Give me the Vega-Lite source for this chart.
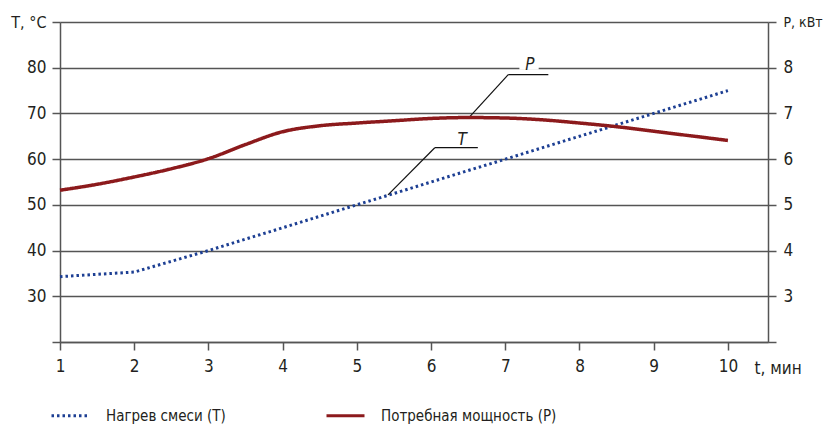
{
  "$schema": "https://vega.github.io/schema/vega-lite/v6.json",
  "width": 708,
  "height": 320,
  "autosize": "none",
  "padding": {"left": 60, "top": 22, "right": 57, "bottom": 85},
  "config": {
    "view": {"stroke": null},
    "font": "DejaVu Sans Condensed, Liberation Sans Narrow, Roboto, sans-serif",
    "axis": {"labelFont": "DejaVu Sans Condensed, Liberation Sans Narrow, Roboto, sans-serif", "labelFontSize": 17, "labelColor": "#231f20", "tickColor": "#555", "domainColor": "#555", "tickWidth": 1.5, "domainWidth": 1.5, "tickSize": 8, "gridColor": "#555", "gridWidth": 1.3, "gridOpacity": 1},
    "legend": {"labelFont": "DejaVu Sans Condensed, Liberation Sans Narrow, Roboto, sans-serif", "labelFontSize": 15, "labelColor": "#231f20", "labelLimit": 400}
  },
  "datasets": {
    "temp": [
      {"t": 1, "v": 34.3, "series": "Нагрев смеси (T)"},
      {"t": 2, "v": 35.3, "series": "Нагрев смеси (T)"},
      {"t": 3, "v": 40, "series": "Нагрев смеси (T)"},
      {"t": 4, "v": 45, "series": "Нагрев смеси (T)"},
      {"t": 5, "v": 50, "series": "Нагрев смеси (T)"},
      {"t": 6, "v": 55, "series": "Нагрев смеси (T)"},
      {"t": 7, "v": 60, "series": "Нагрев смеси (T)"},
      {"t": 8, "v": 65, "series": "Нагрев смеси (T)"},
      {"t": 9, "v": 70, "series": "Нагрев смеси (T)"},
      {"t": 10, "v": 75, "series": "Нагрев смеси (T)"}
    ],
    "power": [
      {"t": 1, "v": 5.32, "series": "Потребная мощность (P)"},
      {"t": 1.5, "v": 5.45, "series": "Потребная мощность (P)"},
      {"t": 2, "v": 5.61, "series": "Потребная мощность (P)"},
      {"t": 2.5, "v": 5.79, "series": "Потребная мощность (P)"},
      {"t": 3, "v": 6.01, "series": "Потребная мощность (P)"},
      {"t": 3.5, "v": 6.32, "series": "Потребная мощность (P)"},
      {"t": 4, "v": 6.6, "series": "Потребная мощность (P)"},
      {"t": 4.5, "v": 6.73, "series": "Потребная мощность (P)"},
      {"t": 5, "v": 6.79, "series": "Потребная мощность (P)"},
      {"t": 5.5, "v": 6.84, "series": "Потребная мощность (P)"},
      {"t": 6, "v": 6.89, "series": "Потребная мощность (P)"},
      {"t": 6.5, "v": 6.91, "series": "Потребная мощность (P)"},
      {"t": 7, "v": 6.9, "series": "Потребная мощность (P)"},
      {"t": 7.5, "v": 6.86, "series": "Потребная мощность (P)"},
      {"t": 8, "v": 6.79, "series": "Потребная мощность (P)"},
      {"t": 8.5, "v": 6.71, "series": "Потребная мощность (P)"},
      {"t": 9, "v": 6.61, "series": "Потребная мощность (P)"},
      {"t": 9.5, "v": 6.51, "series": "Потребная мощность (P)"},
      {"t": 10, "v": 6.41, "series": "Потребная мощность (P)"}
    ],
    "leaders": [
      {"x": 5.42, "y": 52.2, "x2": 6.05, "y2": 62.5},
      {"x": 6.05, "y": 62.5, "x2": 6.63, "y2": 62.5},
      {"x": 6.51, "y": 69.1, "x2": 7.04, "y2": 78.5},
      {"x": 7.04, "y": 78.5, "x2": 7.58, "y2": 78.5}
    ],
    "gaps": [
      {"x": 7.19, "x2": 7.45, "y": 80, "y2": 80}
    ],
    "labels": [
      {"x": 6.42, "y": 64.1, "text": "T"},
      {"x": 7.33, "y": 80.6, "text": "P"}
    ]
  },
  "layer": [
    {
      "layer": [
        {
          "data": {"name": "temp"},
          "mark": {"type": "line", "strokeWidth": 3, "strokeDash": [2.5, 3], "interpolate": "linear"},
          "encoding": {
            "x": {"field": "t", "type": "quantitative", "scale": {"domain": [1, 10.54], "nice": false, "zero": false},
              "axis": {"values": [1,2,3,4,5,6,7,8,9,10], "format": "d", "grid": false, "labelPadding": 8, "labelFlush": false, "title": "t, мин", "titleFont": "DejaVu Sans Condensed, Liberation Sans Narrow, Roboto, sans-serif", "titleFontSize": 17, "titleFontWeight": "normal", "titleColor": "#231f20", "titleX": 694, "titleY": 26, "titleAlign": "left", "titleBaseline": "middle", "titleAnchor": null}},
            "y": {"field": "v", "type": "quantitative", "scale": {"domain": [20, 90], "nice": false, "zero": false},
              "axis": {"values": [20,30,40,50,60,70,80,90], "grid": true, "labelPadding": 6, "title": null, "labelFontSize": {"condition": {"test": "datum.value == 90", "value": 16}, "value": 17}, "labelExpr": "datum.value == 90 ? 'T, °C' : (datum.value == 20 ? '' : datum.label)"}},
            "color": {"field": "series", "type": "nominal", "scale": {"domain": ["Нагрев смеси (T)", "Потребная мощность (P)"], "range": ["#1d3f93", "#8c1a1c"]},
              "legend": {"orient": "none", "legendX": -10, "legendY": 373, "direction": "horizontal", "title": null, "symbolType": "stroke", "symbolSize": 1444, "symbolStrokeWidth": 3, "labelOffset": 15, "columnPadding": 94}},
            "strokeDash": {"field": "series", "type": "nominal", "scale": {"domain": ["Нагрев смеси (T)", "Потребная мощность (P)"], "range": [[2.5, 3], [1, 0]]}, "legend": null}
          }
        },
        {
          "data": {"name": "leaders"},
          "mark": {"type": "rule", "color": "#111", "strokeWidth": 1.2},
          "encoding": {
            "x": {"field": "x", "type": "quantitative"},
            "x2": {"field": "x2"},
            "y": {"field": "y", "type": "quantitative"},
            "y2": {"field": "y2"}
          }
        },
        {
          "data": {"name": "gaps"},
          "mark": {"type": "rule", "color": "white", "strokeWidth": 4},
          "encoding": {
            "x": {"field": "x", "type": "quantitative"},
            "x2": {"field": "x2"},
            "y": {"field": "y", "type": "quantitative"},
            "y2": {"field": "y2"}
          }
        },
        {
          "data": {"name": "labels"},
          "mark": {"type": "text", "fontSize": 17, "fontStyle": "italic", "color": "#231f20", "align": "center", "baseline": "middle"},
          "encoding": {
            "x": {"field": "x", "type": "quantitative"},
            "y": {"field": "y", "type": "quantitative"},
            "text": {"field": "text"}
          }
        }
      ]
    },
    {
      "data": {"name": "power"},
      "mark": {"type": "line", "strokeWidth": 3.5, "interpolate": "monotone"},
      "encoding": {
        "x": {"field": "t", "type": "quantitative", "scale": {"domain": [1, 10.54], "nice": false, "zero": false}},
        "y": {"field": "v", "type": "quantitative", "scale": {"domain": [2, 9], "nice": false, "zero": false},
          "axis": {"orient": "right", "values": [2,3,4,5,6,7,8,9], "grid": false, "labelPadding": 7, "title": null, "labelFontSize": {"condition": {"test": "datum.value == 9", "value": 14}, "value": 17}, "labelExpr": "datum.value == 9 ? 'P, кВт' : (datum.value == 2 ? '' : datum.label)"}},
        "color": {"field": "series", "type": "nominal"},
        "strokeDash": {"field": "series", "type": "nominal"}
      }
    }
  ],
  "resolve": {"scale": {"y": "independent"}}
}
